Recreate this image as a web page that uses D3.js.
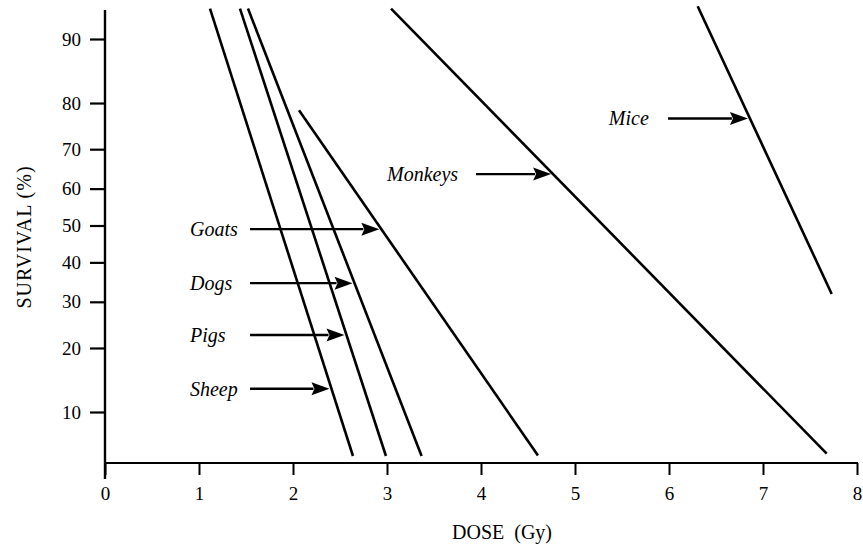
<!DOCTYPE html>
<html>
<head>
<meta charset="utf-8">
<script src="https://cdn.jsdelivr.net/npm/d3@7"></script>
<style>
  html, body { margin: 0; padding: 0; background: #fff; }
  svg { display: block; }
  text { font-family: "Liberation Serif", "Times New Roman", serif; fill: #000; }
</style>
</head>
<body>
<svg id="chart" width="863" height="551"></svg>
<script>
// ---- data ----
const species = ["Sheep", "Pigs", "Dogs", "Goats", "Monkeys", "Mice"];
// each line: [dose (Gy), survival (%)] at its two ends
const startDose     = [1.117, 1.436, 1.521, 2.064, 3.043, 6.305];
const startSurvival = [93.2, 93.2, 93.2, 78.6, 93.2, 93.4];
const endDose       = [2.638, 2.989, 3.368, 4.606, 7.678, 7.731];
const endSurvival   = [5.66, 5.66, 5.66, 5.7, 5.85, 31.9];
// arrow annotations: survival level where the arrow hits the line, dose where arrow starts, dose where label starts
const arrowSurvival = [13.1, 22.6, 34.6, 49.0, 63.8, 76.9];
const arrowFromDose = [1.543, 1.543, 1.543, 1.543, 3.947, 5.99];
const labelDose     = [0.904, 0.904, 0.904, 0.904, 3.0, 5.36];
const xTicks = [0, 1, 2, 3, 4, 5, 6, 7, 8];
const yTicks = [10, 20, 30, 40, 50, 60, 70, 80, 90];

// inverse normal CDF (probit), Acklam's approximation
function probit(pct) {
  const p = pct / 100;
  const a = [-3.969683028665376e+01, 2.209460984245205e+02, -2.759285104469687e+02, 1.383577518672690e+02, -3.066479806614716e+01, 2.506628277459239e+00];
  const b = [-5.447609879822406e+01, 1.615858368580409e+02, -1.556989798598866e+02, 6.680131188771972e+01, -1.328068155288572e+01];
  const c = [-7.784894002430293e-03, -3.223964580411365e-01, -2.400758277161838e+00, -2.549732539343734e+00, 4.374664141464968e+00, 2.938163982698783e+00];
  const d = [7.784695709041462e-03, 3.224671290700398e-01, 2.445134137142996e+00, 3.754408661907416e+00];
  const pl = 0.02425, ph = 1 - pl;
  let q, r;
  if (p < pl) {
    q = Math.sqrt(-2 * Math.log(p));
    return (((((c[0]*q+c[1])*q+c[2])*q+c[3])*q+c[4])*q+c[5]) / ((((d[0]*q+d[1])*q+d[2])*q+d[3])*q+1);
  } else if (p <= ph) {
    q = p - 0.5; r = q*q;
    return (((((a[0]*r+a[1])*r+a[2])*r+a[3])*r+a[4])*r+a[5])*q / (((((b[0]*r+b[1])*r+b[2])*r+b[3])*r+b[4])*r+1);
  } else {
    q = Math.sqrt(-2 * Math.log(1 - p));
    return -(((((c[0]*q+c[1])*q+c[2])*q+c[3])*q+c[4])*q+c[5]) / ((((d[0]*q+d[1])*q+d[2])*q+d[3])*q+1);
  }
}

// ---- scales ----
const x = d3.scaleLinear().domain([0, 8]).range([105, 857]);
const yz = d3.scaleLinear().domain([probit(10), probit(90)]).range([412, 39]);
const y = pct => yz(probit(pct));

const svg = d3.select("#chart");
const axisY0 = 463;

// ---- axes ----
const xAxis = d3.axisBottom(x).tickValues(xTicks).tickSize(12).tickPadding(12).tickFormat(d3.format("d"));
const gx = svg.append("g").attr("transform", `translate(0,${axisY0})`).call(xAxis);
gx.select(".domain").remove();
gx.selectAll(".tick line").attr("stroke", "#000").attr("stroke-width", 2);
gx.selectAll(".tick text").attr("font-size", 19).attr("font-family", "Liberation Serif, serif").attr("fill", "#000");

const yAxis = d3.axisLeft(yz).tickValues(yTicks.map(probit)).tickSize(15).tickPadding(9)
  .tickFormat((d, i) => yTicks[i]);
const gy = svg.append("g").attr("transform", `translate(${x(0)},0)`).call(yAxis);
gy.select(".domain").remove();
gy.selectAll(".tick line").attr("stroke", "#000").attr("stroke-width", 2.2);
gy.selectAll(".tick text").attr("font-size", 19).attr("font-family", "Liberation Serif, serif").attr("fill", "#000");

// axis lines
svg.append("line").attr("x1", x(0)).attr("x2", x(0)).attr("y1", 10).attr("y2", 479)
  .attr("stroke", "#000").attr("stroke-width", 2.4);
svg.append("line").attr("x1", x(0)).attr("x2", x(8) + 1).attr("y1", axisY0).attr("y2", axisY0)
  .attr("stroke", "#000").attr("stroke-width", 2);

// axis titles
svg.append("text").attr("x", 502).attr("y", 539).attr("text-anchor", "middle")
  .attr("font-size", 20).text("DOSE\u00A0\u00A0(Gy)");
svg.append("text").attr("transform", "translate(31,237) rotate(-90)").attr("text-anchor", "middle")
  .attr("font-size", 20).attr("letter-spacing", 1).text("SURVIVAL (%)");

// ---- lines ----
const line = d3.line().x(d => x(d[0])).y(d => y(d[1]));
species.forEach((s, i) => {
  svg.append("path")
    .datum([[startDose[i], startSurvival[i]], [endDose[i], endSurvival[i]]])
    .attr("d", line).attr("fill", "none").attr("stroke", "#000").attr("stroke-width", 2.6);
});

// ---- arrows + labels ----
species.forEach((s, i) => {
  const z0 = probit(startSurvival[i]), z1 = probit(endSurvival[i]), za = probit(arrowSurvival[i]);
  const t = (za - z0) / (z1 - z0);
  const tipDose = startDose[i] + t * (endDose[i] - startDose[i]);
  const ay = y(arrowSurvival[i]);
  const xs = x(arrowFromDose[i]), xt = x(tipDose) - 2;
  const headLen = 18, headW = 6.5;
  svg.append("line").attr("x1", xs).attr("x2", xt - headLen + 2).attr("y1", ay).attr("y2", ay)
    .attr("stroke", "#000").attr("stroke-width", 2.4);
  svg.append("path")
    .attr("d", `M${xt},${ay} L${xt - headLen},${ay - headW} L${xt - headLen + 3},${ay} L${xt - headLen},${ay + headW} Z`)
    .attr("fill", "#000");
  svg.append("text").attr("x", x(labelDose[i])).attr("y", ay + 7).attr("text-anchor", "start")
    .attr("font-size", 20).attr("font-style", "italic").text(s);
});
</script>
</body>
</html>
